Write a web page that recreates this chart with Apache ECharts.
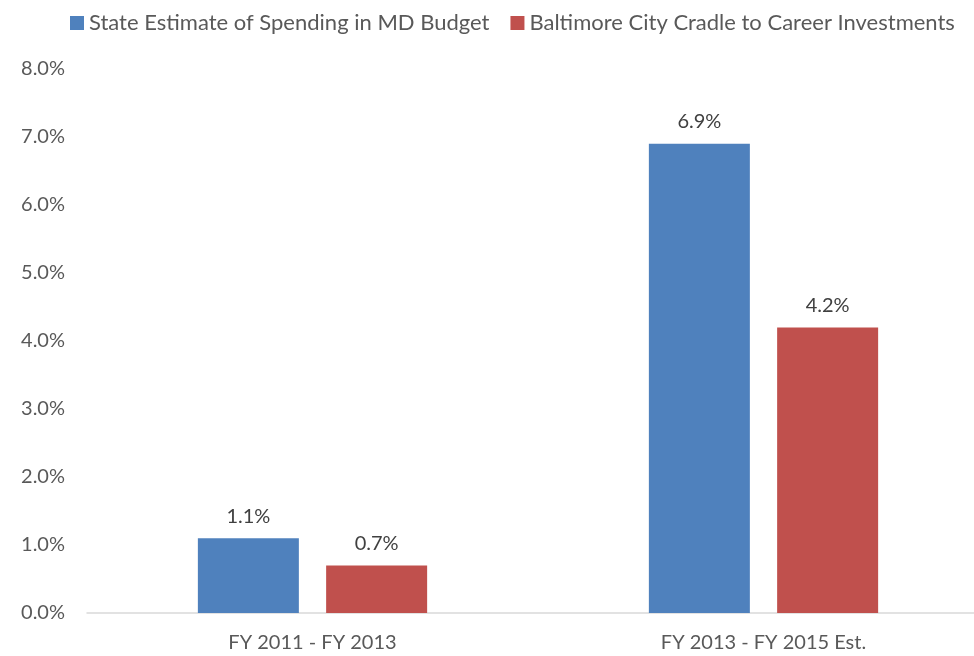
<!DOCTYPE html>
<html>
<head>
<meta charset="utf-8">
<script src="https://cdn.jsdelivr.net/npm/echarts@6/dist/echarts.min.js"></script>
<style>
  html, body { margin: 0; padding: 0; background: #fff; overflow: hidden; }
  /* the plot runs past the right edge, so the canvas is a little wider than the page */
  #chart { width: 990px; height: 656px; }
</style>
</head>
<body>
<div id="chart"></div>
<script>
// Growth rates by period, in percent
const categories = ['FY 2011 - FY 2013', 'FY 2013 - FY 2015 Est.'];
const stateSpending = [1.1, 6.9];
const cityInvestments = [0.7, 4.2];
const seriesNames = ['State Estimate of Spending in MD Budget', 'Baltimore City Cradle to Career Investments'];

const FONT = 'Lato, "Open Sans", sans-serif';
const TEXT = '#595959';

const chart = echarts.init(document.getElementById('chart'));

const barLabel = {
  show: true,
  position: 'top',
  distance: 12,
  fontFamily: FONT,
  fontSize: 20,
  color: '#404040',
  formatter: p => p.value.toFixed(1) + '%'
};

chart.setOption({
  animation: false,
  legend: {
    top: 7,
    left: 65,
    itemWidth: 14,
    itemHeight: 14,
    itemGap: 21,
    icon: 'rect',
    textStyle: { fontFamily: FONT, fontSize: 22, color: TEXT },
    data: seriesNames
  },
  grid: { left: 87, right: 1, top: 69, bottom: 43 },
  xAxis: {
    type: 'category',
    data: categories,
    axisLine: { lineStyle: { color: '#D9D9D9', width: 1.5 } },
    axisTick: { show: false },
    axisLabel: { fontFamily: FONT, fontSize: 20, color: TEXT, margin: 20 }
  },
  yAxis: {
    type: 'value',
    min: 0,
    max: 8,
    interval: 1,
    splitLine: { show: false },
    axisLine: { show: false },
    axisTick: { show: false },
    axisLabel: {
      fontFamily: FONT, fontSize: 20, color: TEXT, margin: 22,
      formatter: v => v.toFixed(1) + '%'
    }
  },
  series: [
    {
      name: seriesNames[0],
      type: 'bar',
      data: stateSpending,
      barWidth: 101,
      barGap: '27%',
      itemStyle: { color: '#4F81BD' },
      label: barLabel
    },
    {
      name: seriesNames[1],
      type: 'bar',
      data: cityInvestments,
      barWidth: 101,
      itemStyle: { color: '#C0504D' },
      label: barLabel
    }
  ]
});
</script>
</body>
</html>
